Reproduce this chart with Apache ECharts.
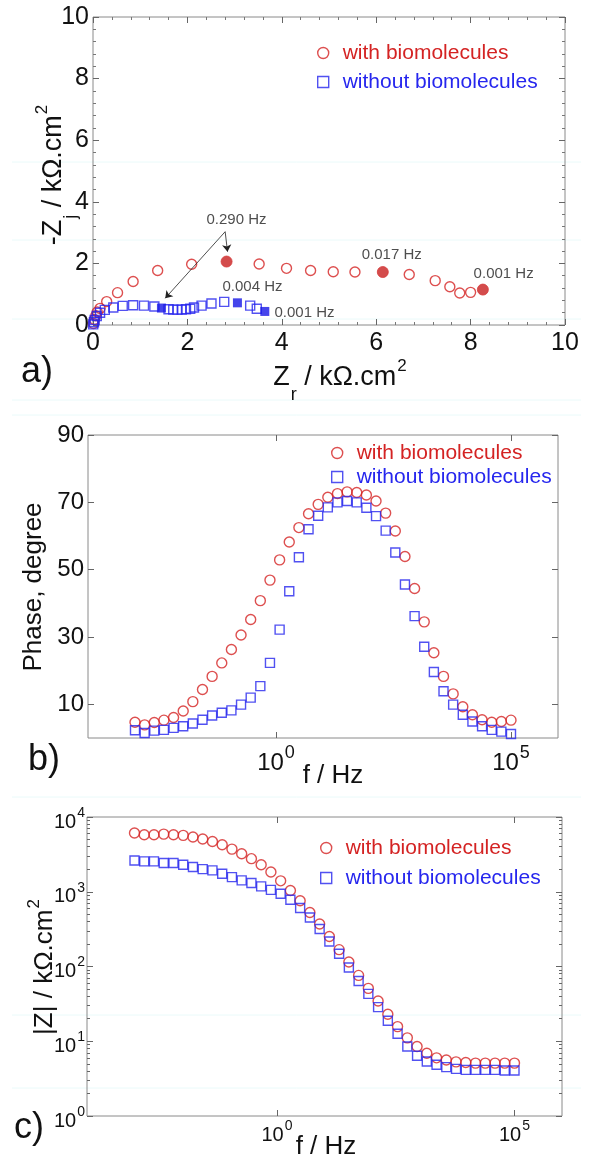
<!DOCTYPE html>
<html lang="en">
<head>
<meta charset="UTF-8">
<title>EIS</title>
<style>
    html, body { margin: 0; padding: 0; background: #fff; }
    #main { width: 589px; height: 1161px; }
</style>
</head>
<body>
<div id="main"></div>
<script src="https://cdn.jsdelivr.net/npm/echarts@6.0.0/dist/echarts.min.js"></script>
<script>
    // a) Nyquist, kOhm.cm2
    var zrWith = [0.01, 0.03, 0.06, 0.09, 0.15, 0.29, 0.52, 0.85, 1.37, 2.09, 3.52, 4.10, 4.61, 5.09, 5.55, 6.70, 7.25, 7.56, 7.77, 8.00];
    var ziWith = [0.05, 0.18, 0.30, 0.42, 0.54, 0.76, 1.05, 1.41, 1.77, 1.97, 1.98, 1.84, 1.77, 1.73, 1.72, 1.64, 1.44, 1.24, 1.04, 1.06];
    var zrWithMark = [2.83, 6.14, 8.26];
    var ziWithMark = [2.06, 1.72, 1.15];
    var zrWithout = [0.005, 0.02, 0.035, 0.08, 0.15, 0.25, 0.43, 0.63, 0.85, 1.08, 1.30, 1.60, 1.70, 1.79, 1.88, 1.97, 2.06, 2.14, 2.30, 2.51, 2.78, 3.33, 3.47];
    var ziWithout = [0.02, 0.09, 0.16, 0.29, 0.40, 0.49, 0.57, 0.62, 0.64, 0.63, 0.60, 0.51, 0.50, 0.50, 0.50, 0.51, 0.53, 0.57, 0.63, 0.70, 0.75, 0.63, 0.53];
    var zrWithoutMark = [1.45, 3.06, 3.64];
    var ziWithoutMark = [0.55, 0.72, 0.44];

    // frequency notes on panel a
    var noteText = ['0.290 Hz', '0.017 Hz', '0.001 Hz', '0.004 Hz', '0.001 Hz'];
    var noteX = [3.04, 6.33, 8.70, 3.38, 4.48];
    var noteY = [3.41, 2.28, 1.66, 1.23, 0.38];
    var arrowFrom = [[2.80, 3.03], [2.80, 3.03]];
    var arrowTo = [[2.85, 2.38], [1.53, 0.87]];

    // b) and c) Bode
    var freq = [0.001, 0.0016037, 0.0025719, 0.0041246, 0.0066147, 0.010608, 0.017013, 0.027283, 0.043755, 0.070170,
        0.11253, 0.18047, 0.28943, 0.46416, 0.74438, 1.1938, 1.9145, 3.0703, 4.9239, 7.8965,
        12.664, 20.309, 32.570, 52.233, 83.768, 134.34, 215.44, 345.51, 554.10, 888.62,
        1425.1, 2285.4, 3665.2, 5877.9, 9426.6, 15118, 24245, 38882, 62355, 100000];
    var phaseWith = [4.7, 3.9, 4.6, 5.3, 6.1, 8.0, 10.8, 14.4, 18.3, 22.3,
        26.3, 30.6, 35.2, 40.8, 46.9, 52.9, 58.2, 62.5, 66.6, 69.4,
        71.5, 72.6, 73.1, 72.9, 72.2, 70.4, 66.8, 61.5, 53.9, 44.4,
        34.5, 25.3, 18.3, 13.1, 9.3, 6.9, 5.4, 4.7, 4.9, 5.3];
    var phaseWithout = [2.3, 1.5, 2.2, 2.4, 3.0, 3.5, 4.3, 5.4, 6.7, 7.5,
        8.2, 9.9, 12.0, 15.4, 22.3, 32.2, 43.6, 53.7, 62.0, 66.0,
        68.5, 70.0, 70.4, 70.0, 68.4, 65.9, 61.6, 55.1, 45.6, 36.2,
        27.1, 19.6, 13.9, 9.9, 6.9, 4.9, 3.5, 2.4, 1.9, 1.2];
    var modWith = [6100, 5800, 5800, 5900, 5800, 5680, 5400, 5070, 4710, 4250,
        3720, 3230, 2770, 2300, 1840, 1400, 1040, 758, 528, 370,
        252, 168, 115, 76, 51, 34.5, 23, 15.7, 11.1, 8.5,
        6.9, 6.0, 5.6, 5.3, 5.2, 5.1, 5.1, 5.1, 5.1, 5.1];
    var modWithout = [2620, 2550, 2550, 2420, 2420, 2300, 2140, 2010, 1930, 1740,
        1570, 1420, 1310, 1180, 1060, 940, 782, 605, 453, 317,
        216, 148, 97, 64, 43, 28.6, 18.8, 12.6, 8.5, 6.4,
        5.35, 4.85, 4.5, 4.27, 4.14, 4.14, 4.14, 4.14, 4.06, 4.06];

    var phaseTicks = [10, 30, 50, 70, 90];
    var freqTicks = [1, 100000];
    var modTicks = [1, 10, 100, 1000, 10000];

    var RED = '#d42323';
    var BLUE = '#2626ee';
    var FONT = '"Liberation Sans", Arial, Helvetica, sans-serif';

    var modMinor = [];
    for (var d = 1; d < 10000; d *= 10) {
        for (var m = 2; m < 10; m++) modMinor.push(m * d);
    }

    function pairs(xs, ys) {
        return xs.map(function (x, i) { return [x, ys[i]]; });
    }

    var tick = {inside: true, length: 6, lineStyle: {color: '#666', width: 1}};
    var minor = {show: true, splitNumber: 5, length: 3, lineStyle: {color: '#777', width: 1}};
    var noLine = {show: false, onZero: false};

    function supFmt(v) {
        return '{b|10}{s|' + Math.round(Math.log10(v)) + '}';
    }

    function linAxis(grid, pos, labels) {
        return {
            type: 'value', gridIndex: grid, position: pos, min: 0, max: 10, interval: 2,
            axisLine: noLine, axisTick: tick, minorTick: minor, splitLine: {show: false},
            axisLabel: {show: labels, fontSize: 25, color: '#111', fontFamily: FONT, margin: pos === 'bottom' ? 6 : 4}
        };
    }

    function freqAxis(grid, pos, labels, big) {
        return {
            type: 'log', logBase: 10, gridIndex: grid, position: pos, min: 0.0001, max: 1000000,
            axisLine: noLine, splitLine: {show: false},
            axisTick: {inside: true, length: 6, customValues: freqTicks, lineStyle: {color: '#666'}},
            axisLabel: {
                show: labels, customValues: freqTicks, formatter: supFmt, margin: big ? 5 : 1,
                color: '#111', fontFamily: FONT,
                rich: big ? {
                    b: {fontSize: 24, lineHeight: 26, padding: [8, 0, 0, 0], verticalAlign: 'top', color: '#111', fontFamily: FONT},
                    s: {fontSize: 18, lineHeight: 18, padding: [1, 0, 0, 1], verticalAlign: 'top', color: '#111', fontFamily: FONT}
                } : {
                    b: {fontSize: 20, lineHeight: 22, padding: [8, 0, 0, 0], verticalAlign: 'top', color: '#111', fontFamily: FONT},
                    s: {fontSize: 14, lineHeight: 14, padding: [2, 0, 0, 1], verticalAlign: 'top', color: '#111', fontFamily: FONT}
                }
            }
        };
    }

    function phaseAxis(pos, labels) {
        return {
            type: 'value', gridIndex: 1, position: pos, min: 0, max: 90,
            axisLine: noLine, splitLine: {show: false},
            axisTick: {inside: true, length: 6, customValues: phaseTicks, lineStyle: {color: '#666'}},
            axisLabel: {show: labels, customValues: phaseTicks, fontSize: 24, color: '#111', fontFamily: FONT, margin: 4}
        };
    }

    function modAxis(pos, labels, ticks, len) {
        return {
            type: 'log', logBase: 10, gridIndex: 2, position: pos, min: 1, max: 10000,
            axisLine: noLine, splitLine: {show: false},
            axisTick: {inside: true, length: len, customValues: ticks, lineStyle: {color: '#666'}},
            axisLabel: {
                show: labels, customValues: modTicks, formatter: supFmt, margin: 2, color: '#111', fontFamily: FONT,
                rich: {
                    b: {fontSize: 20, lineHeight: 22, padding: [6, 0, 6, 0], verticalAlign: 'top', color: '#111', fontFamily: FONT},
                    s: {fontSize: 14, lineHeight: 14, padding: [0, 0, 0, 1], verticalAlign: 'top', color: '#111', fontFamily: FONT}
                }
            }
        };
    }

    function openSeries(name, symbol, size, color, x, y, data) {
        return {
            name: name, type: 'scatter', xAxisIndex: x, yAxisIndex: y, symbol: symbol, symbolSize: size,
            itemStyle: {color: 'transparent', borderColor: color, borderWidth: 1.4},
            data: data, z: 3
        };
    }

    function legendFor(left, top, gap) {
        return {
            orient: 'vertical', left: left, top: top, itemGap: gap, itemWidth: 11, itemHeight: 11,
            selectedMode: false,
            textStyle: {fontSize: 21, lineHeight: 24, fontFamily: FONT, padding: [0, 0, 0, 9]},
            data: [
                {name: 'with biomolecules', icon: 'circle', itemStyle: {color: 'transparent', borderColor: RED, borderWidth: 1.4}, textStyle: {color: RED}},
                {name: 'without biomolecules', icon: 'rect', itemStyle: {color: 'transparent', borderColor: BLUE, borderWidth: 1.4}, textStyle: {color: BLUE}}
            ]
        };
    }

    function title(x, y, text, size, rot, rich) {
        return {
            type: 'text', x: x, y: y, rotation: rot || 0, silent: true,
            style: {
                text: text, fontSize: size, fontFamily: FONT, fill: '#111',
                align: 'center', verticalAlign: 'middle', rich: rich || {}
            }
        };
    }

    function subSup(size) {
        return {
            m: {fontSize: size, lineHeight: size + 3, padding: [8, 0, 0, 0], verticalAlign: 'top', fill: '#111', fontFamily: FONT},
            sub: {fontSize: 18, lineHeight: 18, padding: [30, 0, 0, 1], verticalAlign: 'top', fill: '#111', fontFamily: FONT},
            sup: {fontSize: 17, lineHeight: 18, padding: [2, 0, 0, 1], verticalAlign: 'top', fill: '#111', fontFamily: FONT}
        };
    }

    var faint = [162, 240, 319, 400, 415, 797, 1015, 1088].map(function (y) {
        return {type: 'line', silent: true, z: -1, shape: {x1: 12, y1: y, x2: 581, y2: y}, style: {stroke: '#eafafa', lineWidth: 1}};
    });

    var chart = echarts.init(document.getElementById('main'));

    var option = {
        animation: false,
        backgroundColor: '#fff',
        grid: [
            {left: 93, top: 17, width: 472, height: 308, show: true, borderColor: '#8a8a8a', borderWidth: 1},
            {left: 88, top: 435, width: 470, height: 303, show: true, borderColor: '#8a8a8a', borderWidth: 1},
            {left: 87, top: 817, width: 475, height: 299, show: true, borderColor: '#8a8a8a', borderWidth: 1}
        ],
        xAxis: [
            linAxis(0, 'bottom', true),
            linAxis(0, 'top', false),
            freqAxis(1, 'bottom', true, true),
            freqAxis(1, 'top', false, true),
            freqAxis(2, 'bottom', true, false),
            freqAxis(2, 'top', false, false)
        ],
        yAxis: [
            linAxis(0, 'left', true),
            linAxis(0, 'right', false),
            phaseAxis('left', true),
            phaseAxis('right', false),
            modAxis('left', true, modTicks, 6),
            modAxis('left', false, modMinor, 3),
            modAxis('right', false, modTicks, 6),
            modAxis('right', false, modMinor, 3)
        ],
        legend: [
            legendFor(312, 36, 5),
            legendFor(326, 436, 0),
            legendFor(315, 831, 6)
        ],
        series: [
            openSeries('with biomolecules', 'circle', 10, RED, 0, 0, pairs(zrWith, ziWith)),
            openSeries('without biomolecules', 'rect', 9, BLUE, 0, 0, pairs(zrWithout, ziWithout)),
            {
                name: 'marked with', type: 'scatter', xAxisIndex: 0, yAxisIndex: 0, symbol: 'circle', symbolSize: 11,
                itemStyle: {color: '#c81f1f', borderColor: '#d63a3a', borderWidth: 1}, data: pairs(zrWithMark, ziWithMark), z: 4
            },
            {
                name: 'marked without', type: 'scatter', xAxisIndex: 0, yAxisIndex: 0, symbol: 'rect', symbolSize: 9,
                itemStyle: {color: '#1717e6'}, data: pairs(zrWithoutMark, ziWithoutMark), z: 4
            },
            {
                name: 'notes', type: 'scatter', xAxisIndex: 0, yAxisIndex: 0, symbolSize: 1,
                itemStyle: {color: 'transparent'},
                label: {show: true, position: 'inside', formatter: function (p) { return p.name; }, fontSize: 15, color: '#222', fontFamily: FONT},
                data: noteText.map(function (t, i) { return {name: t, value: [noteX[i], noteY[i]]}; }),
                z: 5
            },
            {
                name: 'arrows', type: 'lines', coordinateSystem: 'cartesian2d', xAxisIndex: 0, yAxisIndex: 0,
                symbol: ['none', 'arrow'], symbolSize: 7,
                lineStyle: {color: '#222', width: 0.8, opacity: 1},
                data: arrowFrom.map(function (a, i) { return {coords: [a, arrowTo[i]]}; }),
                z: 5
            },
            openSeries('with biomolecules', 'circle', 10, RED, 2, 2, pairs(freq, phaseWith)),
            openSeries('without biomolecules', 'rect', 9, BLUE, 2, 2, pairs(freq, phaseWithout)),
            openSeries('with biomolecules', 'circle', 10, RED, 4, 4, pairs(freq, modWith)),
            openSeries('without biomolecules', 'rect', 9, BLUE, 4, 4, pairs(freq, modWithout))
        ],
        graphic: faint.concat([
            title(47, 175, '{m|-Z}{sub|j}{m| / kΩ.cm}{sup|2}', 27, Math.PI / 2, subSup(27)),
            title(340, 371, '{m|Z}{sub|r}{m| / kΩ.cm}{sup|2}', 27, 0, subSup(27)),
            title(37, 372, 'a)', 36),
            title(34, 587, 'Phase, degree', 26, Math.PI / 2),
            title(333, 776, 'f / Hz', 26),
            title(44, 760, 'b)', 36),
            title(38, 967, '{m||Z| / kΩ.cm}{sup|2}', 26, Math.PI / 2, subSup(26)),
            title(326, 1147, 'f / Hz', 26),
            title(29, 1128, 'c)', 36)
        ])
    };

    chart.setOption(option);
</script>
</body>
</html>
